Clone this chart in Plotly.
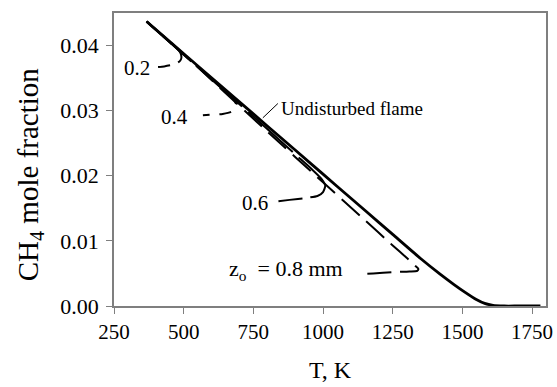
import plotly.graph_objects as go

# Undisturbed flame: CH4 mole fraction vs temperature
T_undisturbed = [367, 450, 550, 650, 750, 850, 950, 1050, 1150, 1250, 1350,
                 1420, 1470, 1510, 1550, 1580, 1610, 1650, 1700, 1780]
x_undisturbed = [0.0437, 0.0406, 0.0369, 0.0332, 0.0295, 0.0258, 0.0221,
                 0.0184, 0.0147, 0.0110, 0.0073, 0.0049, 0.0033, 0.0021,
                 0.0010, 0.0004, 0.0001, 0.0, 0.0, 0.0]

# Disturbed profiles for probe positions z_o (mm)
T_z02 = [367, 420, 470, 488, 492, 488, 476, 455, 430, 408]
x_z02 = [0.0437, 0.0417, 0.0398, 0.0389, 0.0382, 0.0377, 0.0373, 0.0370,
         0.0368, 0.0367]

T_z04 = [367, 450, 550, 640, 680, 688, 684, 670, 640, 600, 569]
x_z04 = [0.0437, 0.0405, 0.0368, 0.0333, 0.0317, 0.0310, 0.0303, 0.0298,
         0.0295, 0.0294, 0.0293]

T_z06 = [367, 500, 650, 800, 900, 960, 995, 1008, 1000, 980, 940, 880, 840]
x_z06 = [0.0437, 0.0386, 0.0329, 0.0272, 0.0233, 0.0210, 0.0195, 0.0185,
         0.0175, 0.0169, 0.0166, 0.0163, 0.0161]

T_z08 = [367, 500, 600, 800, 1000, 1150, 1250, 1300, 1330, 1342, 1338,
         1310, 1250, 1180, 1130]
x_z08 = [0.0437, 0.0387, 0.0347, 0.0268, 0.0190, 0.0132, 0.0093, 0.0074,
         0.0062, 0.0057, 0.0054, 0.0053, 0.0052, 0.0050, 0.0049]

x_ticks = [250, 500, 750, 1000, 1250, 1500, 1750]
y_ticks = [0.00, 0.01, 0.02, 0.03, 0.04]

FONT = "Liberation Serif, Times New Roman, serif"
AXIS_GRAY = "#7f7f7f"

fig = go.Figure()

dashed = [
    (T_z02, x_z02, "24px,9px"),
    (T_z04, x_z04, "12px,10px"),
    (T_z06, x_z06, "60px,8px"),
    (T_z08, x_z08, "24px,9px"),
]
for T, xc, dash in dashed:
    fig.add_trace(go.Scatter(x=T, y=xc, mode="lines",
                             line=dict(color="black", width=2, dash=dash,
                                       shape="spline", smoothing=0.6),
                             showlegend=False, hoverinfo="skip"))

fig.add_trace(go.Scatter(x=T_undisturbed, y=x_undisturbed, mode="lines",
                         line=dict(color="black", width=2.8, shape="spline",
                                   smoothing=0.6),
                         showlegend=False, hoverinfo="skip"))

# Curve labels
labels = [
    (842, 0.0303, "Undisturbed flame", "left", 19),
    (386, 0.0365, "0.2", "right", 21),
    (523, 0.0290, "0.4", "right", 21),
    (810, 0.0158, "0.6", "right", 21),
    (1079, 0.0055, "z<sub>o</sub>&nbsp; = 0.8 mm", "right", 22),
]
for x, y, text, anchor, size in labels:
    fig.add_annotation(x=x, y=y, text=text, showarrow=False, xanchor=anchor,
                       yanchor="middle", font=dict(family=FONT, size=size,
                                                   color="black"))

# Leader line to the undisturbed-flame label
fig.add_shape(type="line", x0=784, y0=0.0289, x1=838, y1=0.0311,
              line=dict(color="black", width=1))

# Y-axis title, placed as rotated text left of the tick labels
fig.add_annotation(xref="paper", yref="paper", x=-0.194, y=0.45,
                   text="CH<sub>4</sub> mole fraction", textangle=-90,
                   showarrow=False, xanchor="center", yanchor="middle",
                   font=dict(family=FONT, size=29, color="black"))

fig.update_layout(
    width=557, height=387,
    margin=dict(l=114, r=11, t=13, b=81),
    paper_bgcolor="white", plot_bgcolor="white",
    font=dict(family=FONT, color="black"),
)
fig.update_xaxes(
    range=[250, 1800], tickvals=x_ticks, ticktext=[str(v) for v in x_ticks],
    showgrid=False, zeroline=False, showline=True, mirror=True,
    linecolor=AXIS_GRAY, linewidth=1.5, ticks="outside", ticklen=6,
    tickcolor=AXIS_GRAY, tickfont=dict(family=FONT, size=21),
    title=dict(text="T, K", font=dict(family=FONT, size=24), standoff=18),
    automargin=False,
)
fig.update_yaxes(
    range=[0, 0.045], tickvals=y_ticks, ticktext=[f"{v:.2f}" for v in y_ticks],
    showgrid=False, zeroline=False, showline=True, mirror=True,
    linecolor=AXIS_GRAY, linewidth=1.5, ticks="outside", ticklen=6,
    tickcolor=AXIS_GRAY, tickfont=dict(family=FONT, size=22),
    ticklabelstandoff=3, automargin=False,
)

fig.write_html("out.html")
